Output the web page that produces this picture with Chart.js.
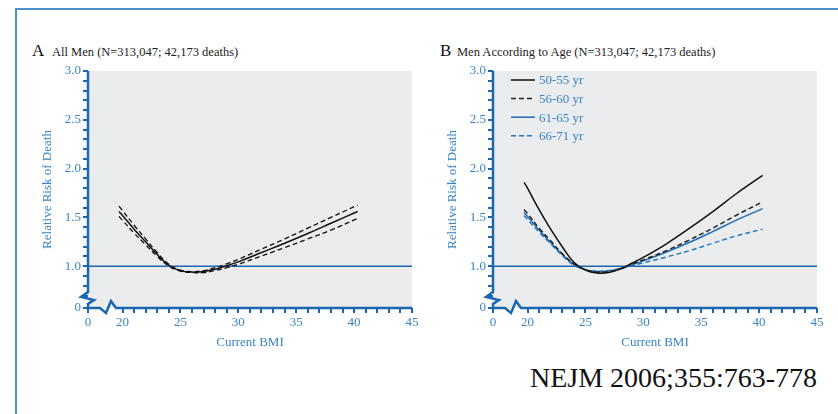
<!DOCTYPE html>
<html lang="en">
<head>
  <meta charset="UTF-8">
  <title>Relative Risk of Death by Current BMI - Men</title>
  <script src="https://cdn.jsdelivr.net/npm/chart.js"></script>
  <style>
    body { margin: 0; width: 838px; height: 414px; background: #fff; overflow: hidden; position: relative; font-family: "Liberation Serif", "DejaVu Serif", serif; }
    .frame { position: absolute; left: 15px; top: 8px; width: 900px; height: 500px; border-top: 2px solid #4f8fca; border-left: 2px solid #4f8fca; }
    .panel { position: absolute; top: 60px; width: 400px; height: 300px; }
    .letter { position: absolute; font-size: 17px; line-height: 1; color: #111; }
    .heading { position: absolute; font-size: 12.5px; line-height: 1; color: #222; white-space: nowrap; }
    .source { position: absolute; left: 530px; top: 364px; font-size: 28px; line-height: 1; color: #111; white-space: nowrap; }
  </style>
</head>
<body>
  <div class="frame"></div>

  <div class="letter" style="left:32px; top:42px;">A</div>
  <div class="heading" style="left:52px; top:46px;">All Men (N=313,047; 42,173 deaths)</div>
  <div class="letter" style="left:440px; top:42px;">B</div>
  <div class="heading" style="left:457px; top:46px;">Men According to Age (N=313,047; 42,173 deaths)</div>

  <div class="panel" style="left:20px;"><canvas id="chartA" width="400" height="300"></canvas></div>
  <div class="panel" style="left:425px;"><canvas id="chartB" width="400" height="300"></canvas></div>

  <div class="source">NEJM 2006;355:763-778</div>

  <script>
    // BMI points
    const bmi = [19.7, 20, 21, 22, 23, 24, 25, 26, 27, 28, 29, 30, 32, 34, 36, 38, 40.3];

    // Panel A: all men, with confidence band
    const allMen      = [1.56, 1.52, 1.38, 1.25, 1.12, 1.01, 0.955, 0.94, 0.945, 0.97, 1.005, 1.045, 1.14, 1.235, 1.335, 1.44, 1.56];
    const allMenUpper = [1.615, 1.57, 1.42, 1.28, 1.14, 1.02, 0.96, 0.945, 0.955, 0.985, 1.025, 1.07, 1.175, 1.28, 1.39, 1.50, 1.626];
    const allMenLower = [1.51, 1.47, 1.34, 1.22, 1.10, 1.00, 0.95, 0.935, 0.935, 0.955, 0.985, 1.02, 1.105, 1.19, 1.28, 1.37, 1.49];

    // Panel B: by age group
    const ageLabels = ['50-55 yr', '56-60 yr', '61-65 yr', '66-71 yr'];
    const age5055 = [1.86, 1.80, 1.58, 1.38, 1.20, 1.04, 0.96, 0.93, 0.935, 0.97, 1.03, 1.09, 1.23, 1.39, 1.56, 1.74, 1.93];
    const age5660 = [1.58, 1.54, 1.39, 1.26, 1.13, 1.025, 0.965, 0.94, 0.945, 0.975, 1.02, 1.065, 1.16, 1.27, 1.39, 1.52, 1.66];
    const age6165 = [1.55, 1.51, 1.37, 1.24, 1.12, 1.02, 0.965, 0.945, 0.95, 0.975, 1.015, 1.055, 1.145, 1.245, 1.355, 1.47, 1.59];
    const age6671 = [1.52, 1.48, 1.35, 1.23, 1.11, 1.01, 0.965, 0.95, 0.955, 0.975, 1.005, 1.035, 1.095, 1.16, 1.235, 1.31, 1.38];

    // Axis ticks (the axes are broken, the origin is shown as "0")
    const xTickLabels = ['0', '20', '25', '30', '35', '40', '45'];
    const yTickLabels = ['0', '1.0', '1.5', '2.0', '2.5', '3.0'];
    const xOrigin = 17.02;
    const yOrigin = 0.572;
    const refValue = 1.0;

    const axisBlue = '#1a67b0';
    const labelBlue = '#3a84c6';
    const bg = '#ebeced';
    const serif = '"Liberation Serif", "DejaVu Serif", serif';

    const xTicks = [xOrigin];
    for (let v = 20; v <= 45; v++) xTicks.push(v);
    const yTicks = [yOrigin];
    for (let k = 7; k <= 30; k++) yTicks.push(k / 10);

    function pts(values) {
      return bmi.map((x, i) => ({ x: x, y: values[i] }));
    }

    function line(label, values, color, dashed, width) {
      return {
        label: label,
        data: pts(values),
        borderColor: color,
        borderWidth: width || 1.5,
        borderDash: dashed ? [5, 3] : [],
        pointRadius: 0,
        tension: 0.4,
        fill: false,
        order: 1
      };
    }

    function refLine() {
      return {
        label: '',
        data: [{ x: xOrigin, y: refValue }, { x: 45, y: refValue }],
        borderColor: axisBlue,
        borderWidth: 1.5,
        pointRadius: 0,
        order: 10
      };
    }

    // gray plot background
    const plotBg = {
      id: 'plotBg',
      beforeDraw(chart) {
        const a = chart.chartArea;
        const ctx = chart.ctx;
        ctx.save();
        ctx.fillStyle = bg;
        ctx.fillRect(a.left, a.top, a.right - a.left, a.bottom - a.top);
        ctx.restore();
      }
    };

    // axis lines with the break marks
    const brokenAxes = {
      id: 'brokenAxes',
      afterDraw(chart) {
        const a = chart.chartArea;
        const ctx = chart.ctx;
        ctx.save();
        ctx.strokeStyle = axisBlue;
        ctx.lineWidth = 2.5;
        // y axis
        ctx.beginPath();
        ctx.moveTo(a.left, a.top);
        ctx.lineTo(a.left, a.bottom - 16);
        ctx.lineTo(a.left - 7, a.bottom - 11);
        ctx.lineTo(a.left + 6, a.bottom - 8);
        ctx.lineTo(a.left, a.bottom - 4);
        ctx.lineTo(a.left, a.bottom);
        // x axis
        ctx.lineTo(a.left + 12, a.bottom);
        ctx.lineTo(a.left + 18, a.bottom + 5);
        ctx.lineTo(a.left + 23, a.bottom - 7);
        ctx.lineTo(a.left + 28, a.bottom);
        ctx.lineTo(a.right, a.bottom);
        ctx.stroke();
        ctx.restore();
      }
    };

    // legend drawn inside the plot
    const inlineLegend = {
      id: 'inlineLegend',
      afterDraw(chart, args, opts) {
        if (!opts.show) return;
        const a = chart.chartArea;
        const ctx = chart.ctx;
        const items = chart.data.datasets.filter(d => d.label);
        ctx.save();
        items.forEach((d, i) => {
          const y = a.top + 9 + i * 18.6;
          ctx.strokeStyle = d.borderColor;
          ctx.lineWidth = 1.5;
          ctx.setLineDash(d.borderDash || []);
          ctx.beginPath();
          ctx.moveTo(a.left + 18, y);
          ctx.lineTo(a.left + 42, y);
          ctx.stroke();
          ctx.setLineDash([]);
          ctx.fillStyle = labelBlue;
          ctx.font = '13px ' + serif;
          ctx.textBaseline = 'middle';
          ctx.fillText(d.label, a.left + 46, y + 1);
        });
        ctx.restore();
      }
    };

    function makeOptions(showLegend) {
      const font = { family: serif, size: 13 };
      return {
        responsive: false,
        animation: false,
        layout: { padding: { top: 11, right: 8, left: 0, bottom: 0 } },
        plugins: {
          legend: { display: false },
          tooltip: { enabled: false },
          inlineLegend: { show: showLegend }
        },
        scales: {
          x: {
            type: 'linear',
            min: xOrigin,
            max: 45,
            afterBuildTicks: s => { s.ticks = xTicks.map(v => ({ value: v })); },
            afterFit: s => { s.height = 52; s.paddingLeft = 0; s.paddingRight = 0; },
            ticks: {
              autoSkip: false,
              maxRotation: 0,
              padding: 2,
              color: labelBlue,
              font: font,
              callback: v => {
                if (v === xOrigin) return xTickLabels[0];
                return xTickLabels.includes(String(v)) ? String(v) : '';
              }
            },
            grid: { drawOnChartArea: false, drawTicks: true, tickLength: 5, color: axisBlue, lineWidth: 2 },
            border: { display: false },
            title: { display: true, text: 'Current BMI', color: labelBlue, font: font, padding: { top: 0, bottom: 10 } }
          },
          y: {
            type: 'linear',
            min: yOrigin,
            max: 3.0,
            afterBuildTicks: s => { s.ticks = yTicks.map(v => ({ value: v })); },
            afterFit: s => { s.width = 68; s.paddingTop = 0; s.paddingBottom = 0; },
            ticks: {
              autoSkip: false,
              padding: 2,
              color: labelBlue,
              font: font,
              callback: v => {
                if (v === yOrigin) return yTickLabels[0];
                const t = v.toFixed(1);
                return yTickLabels.includes(t) ? t : '';
              }
            },
            grid: { drawOnChartArea: false, drawTicks: true, tickLength: 5, color: axisBlue, lineWidth: 2 },
            border: { display: false },
            title: { display: true, text: 'Relative Risk of Death', color: labelBlue, font: font, padding: { top: 20, bottom: 0 } }
          }
        }
      };
    }

    new Chart(document.getElementById('chartA'), {
      type: 'line',
      data: {
        datasets: [
          line('', allMen, '#111', false, 1.5),
          line('', allMenUpper, '#111', true, 1.3),
          line('', allMenLower, '#111', true, 1.3),
          refLine()
        ]
      },
      options: makeOptions(false),
      plugins: [plotBg, brokenAxes, inlineLegend]
    });

    new Chart(document.getElementById('chartB'), {
      type: 'line',
      data: {
        datasets: [
          line(ageLabels[0], age5055, '#111', false),
          line(ageLabels[1], age5660, '#222', true),
          line(ageLabels[2], age6165, '#1f6fb8', false),
          line(ageLabels[3], age6671, '#2a78c0', true),
          refLine()
        ]
      },
      options: makeOptions(true),
      plugins: [plotBg, brokenAxes, inlineLegend]
    });
  </script>
</body>
</html>
